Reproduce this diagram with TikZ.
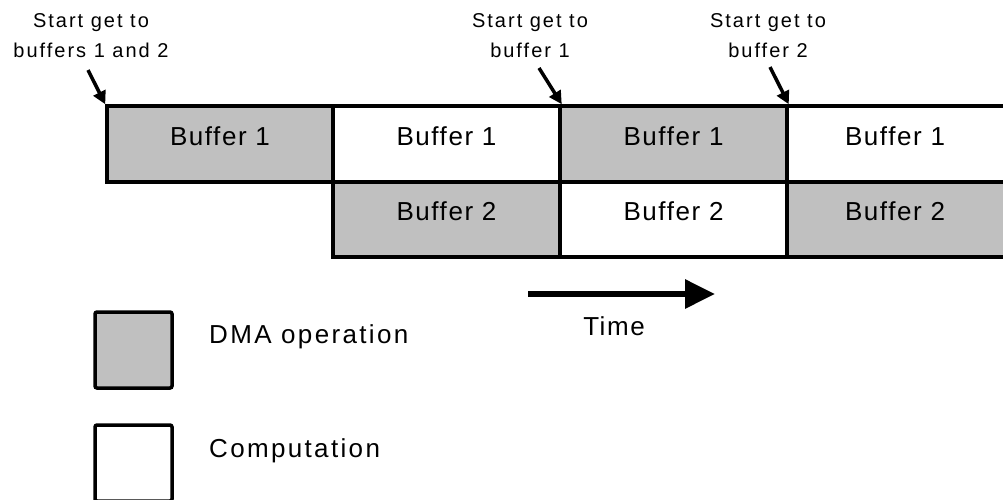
\documentclass[tikz,border=0pt]{standalone}
\usepackage{fontspec}
\setmainfont{Liberation Sans}[LetterSpace=6]
\newfontfamily\notefont{Liberation Sans}[LetterSpace=10]
\newfontfamily\legendfont{Liberation Sans}[LetterSpace=9]
\usetikzlibrary{arrows.meta}
\definecolor{dma}{HTML}{C0C0C0}
\tikzset{
  cell/.style={draw, line width=3.5pt, minimum height=76pt, inner sep=0pt,
    text height=19pt, text depth=17pt, font=\fontsize{26}{30}\selectfont},
  dmacell/.style={cell, fill=dma},
  compcell/.style={cell, fill=white},
  note/.style={align=center, inner sep=0pt, anchor=north, font=\notefont\fontsize{20}{30}\selectfont},
  pointer/.style={line width=3.5pt, -{Triangle[length=13pt,width=13pt]}},
  legendbox/.style={draw, line width=3.5pt, rounded corners=2pt, minimum width=77pt, minimum height=76pt, inner sep=0pt},
  legendtext/.style={anchor=base west, inner sep=0pt, font=\legendfont\fontsize{26}{30}\selectfont},
}
\begin{document}
\begin{tikzpicture}[x=1pt,y=-1pt]
\useasboundingbox (0,0) rectangle (1003,499);
% row 1
\node[dmacell, minimum width=226pt] (c11) at (220,144) {Buffer 1};
\node[compcell, minimum width=227pt] (c12) at (446.5,144) {Buffer 1};
\node[dmacell, minimum width=227pt] (c13) at (673.5,144) {Buffer 1};
\node[compcell, minimum width=228pt] (c14) at (901,144) {\hspace*{-12pt}Buffer 1};
% row 2
\node[dmacell, minimum width=227pt, minimum height=75pt] (c22) at (446.5,219.5) {Buffer 2};
\node[compcell, minimum width=227pt, minimum height=75pt] (c23) at (673.5,219.5) {Buffer 2};
\node[dmacell, minimum width=228pt, minimum height=75pt] (c24) at (901,219.5) {\hspace*{-12pt}Buffer 2};
% notes
\node[note] (n1) at (91,13) {Start get to\\buffers 1 and 2};
\node[note] (n2) at (530,13) {Start get to\\buffer 1};
\node[note] (n3) at (768,13) {Start get to\\buffer 2};
\coordinate (p1) at (88,70);
\coordinate (p2) at (539,68);
\coordinate (p3) at (770,67);
\draw[pointer] (p1) -- (c11.north west);
\draw[pointer] (p2) -- (c12.north east);
\draw[pointer] (p3) -- (c13.north east);
% time arrow
\coordinate (t0) at (528,294);
\coordinate (t1) at (715,294);
\draw[line width=6pt, -{Triangle[length=30pt,width=28pt]}] (t0) -- (t1);
\node[anchor=base, inner sep=0pt, font=\fontsize{26}{30}\selectfont] (time) at (614,335) {Time};
% legend
\node[legendbox, fill=dma] (ldma) at (133.5,350) {};
\node[legendtext] (tdma) at (209,343) {DMA operation};
\node[legendbox, fill=white] (lcomp) at (133.5,463) {};
\node[legendtext] (tcomp) at (209,457) {Computation};
\end{tikzpicture}
\end{document}
